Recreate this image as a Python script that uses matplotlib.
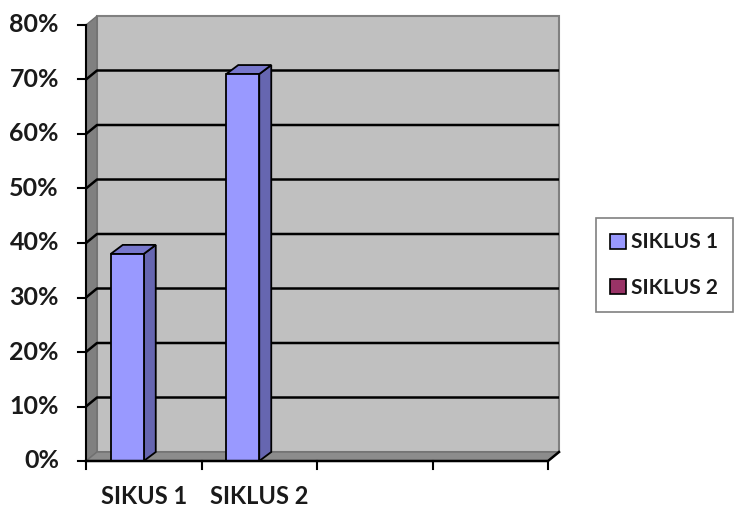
import matplotlib.pyplot as plt
from matplotlib.patches import Polygon, Patch

# data
categories = ["SIKUS 1", "SIKLUS 2", "", ""]
series_names = ["SIKLUS 1", "SIKLUS 2"]
siklus1 = [0.38, 0.71, 0, 0]
siklus2 = [0, 0, 0, 0]
yticks = [0, 0.1, 0.2, 0.3, 0.4, 0.5, 0.6, 0.7, 0.8]
ytick_labels = ["0%", "10%", "20%", "30%", "40%", "50%", "60%", "70%", "80%"]

front_col = "#9999FF"
side_col = "#6666B0"
top_col = "#7777CC"
s2_col = "#993366"

plt.rcParams['font.family'] = ['Lato', 'DejaVu Sans']

fig = plt.figure(figsize=(7.35, 5.08), dpi=100)
ax = fig.add_axes([86 / 735, 47 / 508, 462 / 735, 436 / 508])
ax.set_xlim(0, len(categories))
ax.set_ylim(0, 0.8)
ax.axis('off')

# depth offsets (data units)
wdx, wdy = 11 / 115.5, 9 / 545
bdx, bdy = 12 / 115.5, 9 / 545
n = len(categories)
top = 0.8

# walls and floor
ax.add_patch(Polygon([(wdx, wdy), (n + wdx, wdy), (n + wdx, top + wdy), (wdx, top + wdy)],
                     closed=True, facecolor="#C0C0C0", edgecolor="#808080", lw=1.5,
                     clip_on=False, zorder=1))
ax.add_patch(Polygon([(0, 0), (wdx, wdy), (wdx, top + wdy), (0, top)],
                     closed=True, facecolor="#808080", edgecolor="#707070", lw=1,
                     clip_on=False, zorder=1))
ax.add_patch(Polygon([(0, 0), (n, 0), (n + wdx, wdy), (wdx, wdy)],
                     closed=True, facecolor="#8C8C8C", edgecolor="#707070", lw=1,
                     clip_on=False, zorder=1))

# gridlines
for t in yticks[1:-1]:
    ax.plot([0, wdx, n + wdx], [t, t + wdy, t + wdy], color="black", lw=1.8,
            clip_on=False, zorder=2, solid_capstyle='butt')

# axes lines and ticks
ax.plot([0, 0], [0, top], color="black", lw=1.5, clip_on=False, zorder=5)
ax.plot([0, n, n + wdx], [0, 0, wdy], color="black", lw=1.8, clip_on=False, zorder=5)
for t, lab in zip(yticks, ytick_labels):
    ax.plot([-8 / 115.5, 0], [t, t], color="black", lw=1.5, clip_on=False, zorder=5)
    ax.text(-27 / 115.5, t, lab, ha='right', va='center', fontsize=18,
            fontweight='bold', color="#1a1a1a")
for i in range(n + 1):
    ax.plot([i, i], [0, -8 / 545], color="black", lw=1.5, clip_on=False, zorder=5)
for i, lab in enumerate(categories):
    ax.text(i + 0.5, -36 / 545, lab, ha='center', va='center', fontsize=17,
            fontweight='bold', color="#1a1a1a")

# bars
w = 1 / 3.5
for j, vals in enumerate([siklus1, siklus2]):
    for i, v in enumerate(vals):
        if v <= 0:
            continue
        x0 = i + 0.75 * w + j * w
        x1 = x0 + w
        ax.add_patch(Polygon([(x1, 0), (x1 + bdx, bdy), (x1 + bdx, v + bdy), (x1, v)],
                             closed=True, facecolor=side_col, edgecolor="black", lw=1.3,
                             clip_on=False, zorder=3))
        ax.add_patch(Polygon([(x0, v), (x0 + bdx, v + bdy), (x1 + bdx, v + bdy), (x1, v)],
                             closed=True, facecolor=top_col, edgecolor="black", lw=1.3,
                             clip_on=False, zorder=3))
        ax.add_patch(Polygon([(x0, 0), (x1, 0), (x1, v), (x0, v)],
                             closed=True, facecolor=front_col, edgecolor="black", lw=1.3,
                             clip_on=False, zorder=4))

# legend
handles = [Patch(facecolor=front_col, edgecolor="black", lw=1.2),
           Patch(facecolor=s2_col, edgecolor="black", lw=1.2)]
leg = fig.legend(handles, series_names, loc='center',
                 bbox_to_anchor=(664 / 735, 1 - 265 / 508),
                 frameon=True, fancybox=False, edgecolor="#606060",
                 prop={'weight': 'bold', 'size': 15}, handlelength=0.75, handleheight=0.7,
                 handletextpad=0.25, labelspacing=1.2, borderpad=0.7)
leg.get_frame().set_linewidth(1.2)
for t in leg.get_texts():
    t.set_color("#1a1a1a")

fig.savefig("out.png", dpi=100)
